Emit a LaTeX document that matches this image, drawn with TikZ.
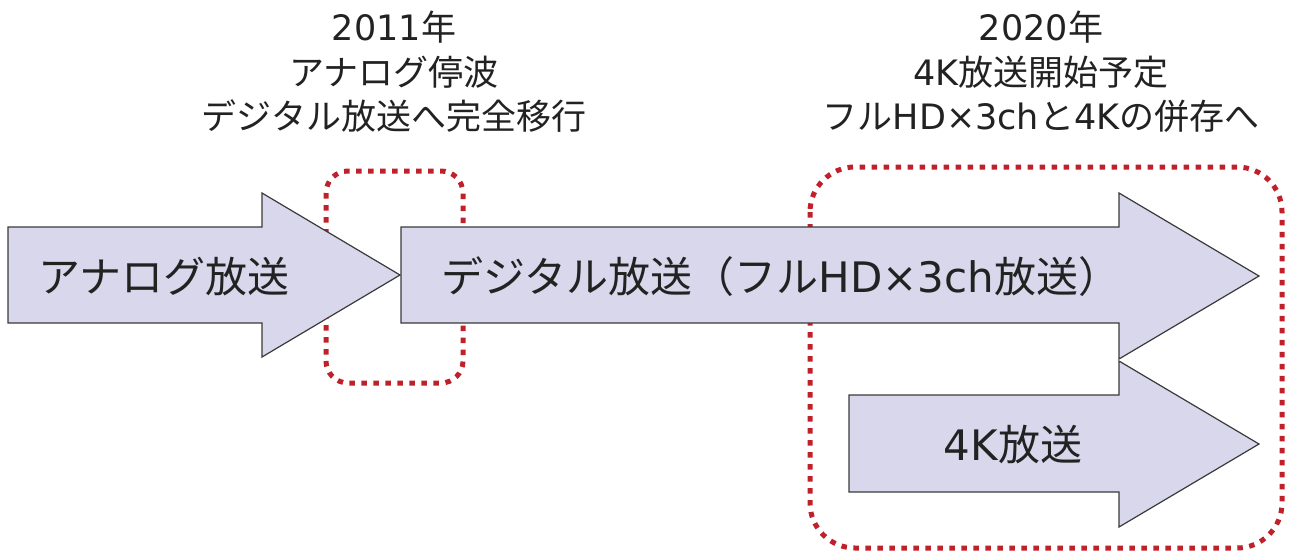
\documentclass[tikz,border=0pt]{standalone}
\usepackage{fontspec}
\setmainfont{Noto Sans CJK JP}
\newfontfamily\latin{DejaVu Sans}
\usepackage{xcolor}
\usetikzlibrary{positioning}

\definecolor{bandfill}{HTML}{D8D7EB}
\definecolor{bandline}{HTML}{3A3A3A}
\definecolor{markred}{HTML}{C0202A}
\definecolor{ink}{HTML}{222222}

\begin{document}
\begin{tikzpicture}[
    x=1pt, y=-1pt,
    band/.style={draw=bandline, line width=1.2pt, fill=bandfill, line join=miter},
    markbox/.style={draw=markred, line width=5pt, dash pattern=on 5.5pt off 6.5pt},
    bandtext/.style={inner sep=0pt, text=ink, font=\fontsize{42}{50}\selectfont},
    note/.style={inner sep=0pt, text=ink, align=center, font=\fontsize{35}{44.5}\selectfont}
]
    \useasboundingbox (0,0) rectangle (1290,554);

    % Dotted frames (behind the arrows)
    \draw[markbox, rounded corners=22pt] (326,171) rectangle (463,383);
    \draw[markbox, rounded corners=45pt] (810,167) rectangle (1282,548);

    % Arrows
    \draw[band] (8,227) -- (262,227) -- (262,193) -- (400,275) -- (262,357) -- (262,323) -- (8,323) -- cycle;
    \draw[band] (401,227) -- (1119,227) -- (1119,193) -- (1259,276) -- (1119,359) -- (1119,323) -- (401,323) -- cycle;
    \draw[band] (849,395) -- (1119,395) -- (1119,361) -- (1259,444) -- (1119,527) -- (1119,492) -- (849,492) -- cycle;

    % Arrow labels
    \node[bandtext] (analog) at (164,277) {アナログ放送};
    \node[bandtext] (digital) at (781,277) {デジタル放送（フル{\latin HD×3ch}放送）};
    \node[bandtext] (uhd) at (1013,445) {{\latin 4K}放送};

    % Milestones
    \node[note] (year2011) at (394,72) {{\latin 2011}年\\アナログ停波\\デジタル放送へ完全移行};
    \node[note] (year2020) at (1041,72) {{\latin 2020}年\\{\latin 4K}放送開始予定\\フル{\latin HD×3ch}と{\latin 4K}の併存へ};
\end{tikzpicture}
\end{document}
